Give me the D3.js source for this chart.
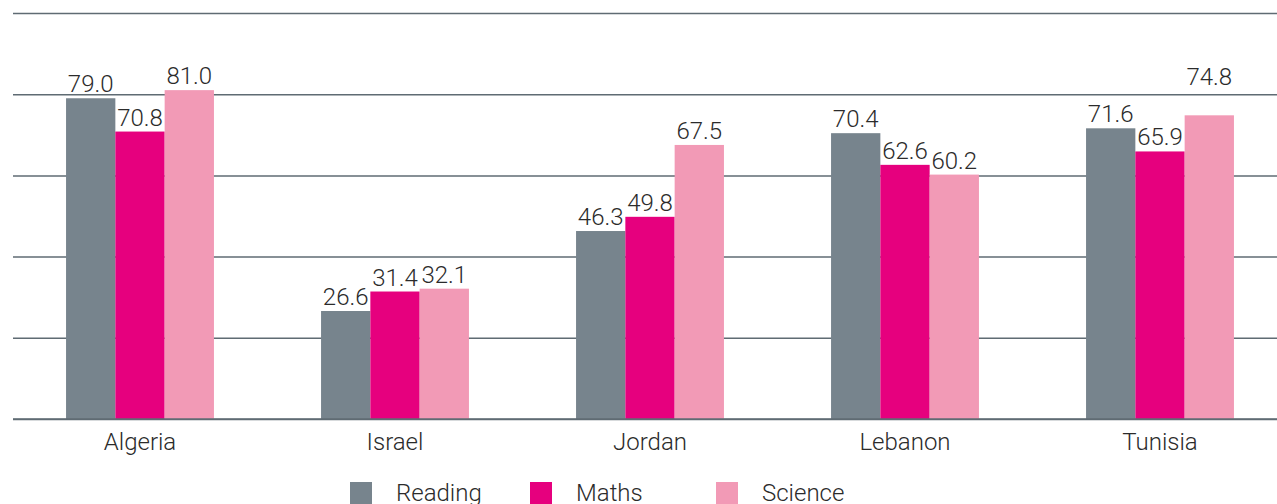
<!DOCTYPE html>
<html>
<head>
<meta charset="utf-8">
<script src="https://cdn.jsdelivr.net/npm/d3@7"></script>
<style>
	body { margin: 0; background: #fff; }
	text { font-family: Roboto, "Liberation Sans", Arial, sans-serif; font-weight: 300; fill: #2b2b2b; }
</style>
</head>
<body>
<svg id="chart" width="1277" height="504"></svg>
<script>
// data
var countries = ["Algeria", "Israel", "Jordan", "Lebanon", "Tunisia"];
var subjects = ["Reading", "Maths", "Science"];
var reading = [79.0, 26.6, 46.3, 70.4, 71.6];
var maths = [70.8, 31.4, 49.8, 62.6, 65.9];
var science = [81.0, 32.1, 67.5, 60.2, 74.8];
var yTicks = [0, 20, 40, 60, 80, 100];
var colors = ["#77848d", "#e6007e", "#f29ab6"];

var series = [reading, maths, science];

var svg = d3.select("#chart");

var x = d3.scaleBand()
	.domain(countries)
	.range([12.5, 1287.5])
	.paddingInner(0.42)
	.paddingOuter(0.21);

var xSub = d3.scaleBand()
	.domain(subjects)
	.range([0, x.bandwidth()]);

var y = d3.scaleLinear()
	.domain([0, 100])
	.range([419, 13]);

//************ GRID ************
var yAxis = d3.axisLeft(y)
	.tickValues(yTicks)
	.tickSizeInner(-(1277 - 13))
	.tickSizeOuter(0)
	.tickFormat("");

var grid = svg.append("g")
	.attr("transform", "translate(13,0)")
	.call(yAxis);
grid.select(".domain").remove();
grid.selectAll("line")
	.attr("stroke", "#5f6b73")
	.attr("stroke-width", 1.5);

//************ BARS ************
var groups = svg.selectAll(".country")
	.data(countries)
	.enter().append("g")
	.attr("class", "country")
	.attr("transform", function(d) { return "translate(" + x(d) + ",0)"; });

groups.selectAll("rect")
	.data(function(d, i) {
		return subjects.map(function(s, j) { return { s: s, v: series[j][i], j: j }; });
	})
	.enter().append("rect")
	.attr("x", function(d) { return xSub(d.s); })
	.attr("width", xSub.bandwidth())
	.attr("y", function(d) { return y(d.v); })
	.attr("height", function(d) { return y(0) - y(d.v); })
	.attr("fill", function(d) { return colors[d.j]; });

// value labels
groups.selectAll(".val")
	.data(function(d, i) {
		return subjects.map(function(s, j) { return { s: s, v: series[j][i], j: j, c: d }; });
	})
	.enter().append("text")
	.attr("class", "val")
	.attr("x", function(d) { return xSub(d.s) + xSub.bandwidth() / 2; })
	.attr("y", function(d) {
		// Tunisia science label sits higher in the original
		var lift = (d.c === "Tunisia" && d.s === "Science") ? 24 : 0;
		return y(d.v) - 6 - lift;
	})
	.attr("text-anchor", "middle")
	.attr("font-size", 24)
	.text(function(d) { return d.v.toFixed(1); });

// baseline over bars
svg.append("line")
	.attr("x1", 13).attr("x2", 1277)
	.attr("y1", y(0)).attr("y2", y(0))
	.attr("stroke", "#5f6b73")
	.attr("stroke-width", 1.5);

//************ CATEGORY LABELS ************
svg.selectAll(".cat")
	.data(countries)
	.enter().append("text")
	.attr("class", "cat")
	.attr("x", function(d) { return x(d) + x.bandwidth() / 2; })
	.attr("y", 450)
	.attr("text-anchor", "middle")
	.attr("font-size", 24)
	.text(function(d) { return d; });

//************ LEGEND ************
var legendX = [350, 530, 716];
var legend = svg.selectAll(".leg")
	.data(subjects)
	.enter().append("g")
	.attr("class", "leg")
	.attr("transform", function(d, i) { return "translate(" + legendX[i] + ",482)"; });

legend.append("rect")
	.attr("width", 22)
	.attr("height", 22)
	.attr("fill", function(d, i) { return colors[i]; });

legend.append("text")
	.attr("x", 46)
	.attr("y", 19)
	.attr("font-size", 24)
	.text(function(d) { return d; });
</script>
</body>
</html>
